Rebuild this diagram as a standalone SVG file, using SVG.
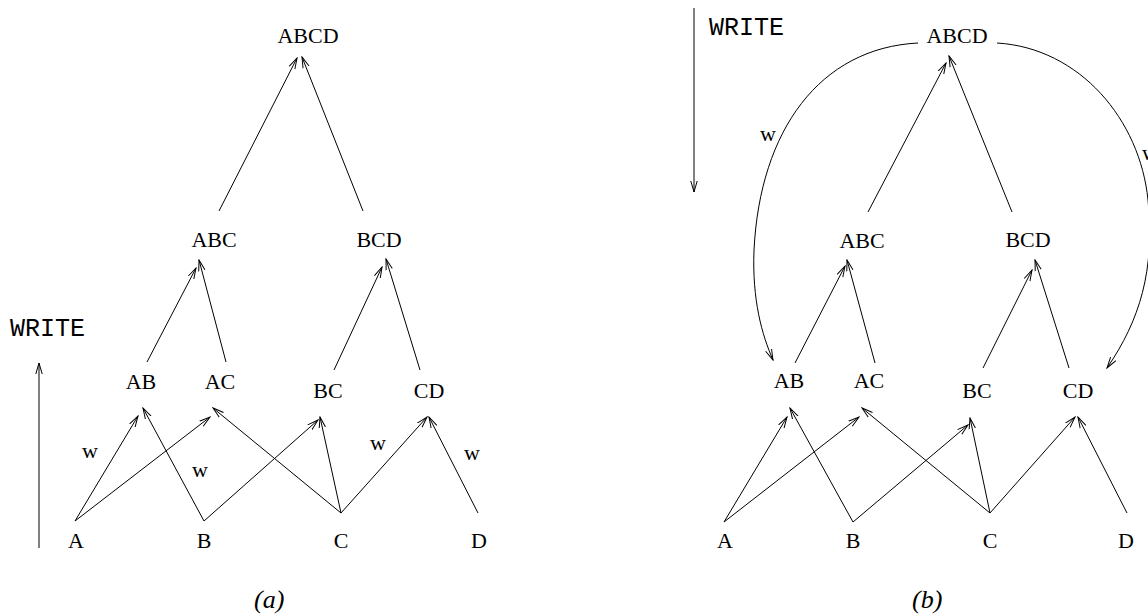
<svg xmlns="http://www.w3.org/2000/svg" width="1148" height="615" viewBox="0 0 1148 615">
<style>
.n{font-family:"Liberation Serif",serif;font-size:22px;fill:#000;text-anchor:middle}
.w{font-family:"Liberation Serif",serif;font-size:22px;fill:#000;text-anchor:middle}
.m{font-family:"Liberation Mono",monospace;font-size:25px;fill:#000}
.cap{font-family:"Liberation Serif",serif;font-size:26px;font-style:italic;fill:#000}
.c line,.c path{stroke:#000;stroke-width:1;fill:none;marker-end:url(#ah)}
</style>
<defs>
<marker id="ah" markerUnits="userSpaceOnUse" viewBox="0 0 12 8" markerWidth="12" markerHeight="8" refX="11" refY="4" orient="auto">
<path d="M0,0.8 L11,4 L0,7.2" fill="none" stroke="#000" stroke-width="1"/>
</marker>
</defs>
<rect width="1148" height="615" fill="#fff"/>
<g id="connectors" class="c">
<line x1="39" y1="548" x2="39" y2="363"/>
<line x1="219" y1="211" x2="297" y2="58"/>
<line x1="363" y1="211" x2="302" y2="57"/>
<line x1="147" y1="362" x2="196" y2="268"/>
<line x1="226" y1="362" x2="199" y2="260"/>
<line x1="334" y1="370" x2="382" y2="267"/>
<line x1="420" y1="370" x2="386" y2="259"/>
<line x1="75" y1="521" x2="138" y2="416"/>
<line x1="75" y1="521" x2="210" y2="417"/>
<line x1="204" y1="521" x2="143" y2="408"/>
<line x1="204" y1="521" x2="318" y2="420"/>
<line x1="341" y1="513" x2="213" y2="408"/>
<line x1="341" y1="513" x2="320" y2="417"/>
<line x1="341" y1="513" x2="427" y2="417"/>
<line x1="478" y1="513" x2="429" y2="417"/>
<line x1="694" y1="8" x2="694" y2="192"/>
<line x1="868" y1="212" x2="946" y2="63"/>
<line x1="1012" y1="212" x2="949" y2="56"/>
<line x1="795" y1="363" x2="845" y2="266"/>
<line x1="875" y1="363" x2="847" y2="260"/>
<line x1="983" y1="368" x2="1032" y2="270"/>
<line x1="1069" y1="368" x2="1035" y2="260"/>
<line x1="724" y1="522" x2="787" y2="417"/>
<line x1="724" y1="522" x2="859" y2="417"/>
<line x1="853" y1="522" x2="790" y2="408"/>
<line x1="853" y1="522" x2="968" y2="425"/>
<line x1="990" y1="513" x2="862" y2="408"/>
<line x1="990" y1="513" x2="970" y2="418"/>
<line x1="990" y1="513" x2="1075" y2="417"/>
<line x1="1127" y1="513" x2="1078" y2="417"/>
<path d="M918,43 C820,48 760,130 754,250 C752,300 762,335 773,360"/>
<path d="M997,43 C1080,48 1140,120 1148,200 C1155,270 1140,320 1107,368"/>
</g>
<g id="a-ABCD"><text class="n" x="308" y="43">ABCD</text></g>
<g id="a-ABC"><text class="n" x="214" y="247">ABC</text></g>
<g id="a-BCD"><text class="n" x="379" y="247">BCD</text></g>
<g id="a-AB"><text class="n" x="141" y="389">AB</text></g>
<g id="a-AC"><text class="n" x="220" y="389">AC</text></g>
<g id="a-BC"><text class="n" x="328" y="398">BC</text></g>
<g id="a-CD"><text class="n" x="429" y="398">CD</text></g>
<g id="a-A"><text class="n" x="76" y="548">A</text></g>
<g id="a-B"><text class="n" x="204" y="548">B</text></g>
<g id="a-C"><text class="n" x="341" y="548">C</text></g>
<g id="a-D"><text class="n" x="479" y="548">D</text></g>
<g id="a-labels">
<text class="m" x="10" y="336">WRITE</text>
<text class="w" x="90" y="458">w</text>
<text class="w" x="200" y="477">w</text>
<text class="w" x="378" y="450">w</text>
<text class="w" x="472" y="460">w</text>
<text class="cap" x="254" y="608">(a)</text>
</g>
<g id="b-ABCD"><text class="n" x="957" y="43">ABCD</text></g>
<g id="b-ABC"><text class="n" x="862" y="248">ABC</text></g>
<g id="b-BCD"><text class="n" x="1028" y="247">BCD</text></g>
<g id="b-AB"><text class="n" x="789" y="388">AB</text></g>
<g id="b-AC"><text class="n" x="869" y="388">AC</text></g>
<g id="b-BC"><text class="n" x="977" y="398">BC</text></g>
<g id="b-CD"><text class="n" x="1078" y="398">CD</text></g>
<g id="b-A"><text class="n" x="725" y="548">A</text></g>
<g id="b-B"><text class="n" x="853" y="548">B</text></g>
<g id="b-C"><text class="n" x="990" y="548">C</text></g>
<g id="b-D"><text class="n" x="1126" y="548">D</text></g>
<g id="b-labels">
<text class="m" x="709" y="35">WRITE</text>
<text class="w" x="768" y="141">w</text>
<text class="w" x="1142" y="160" style="text-anchor:start">w</text>
<text class="cap" x="912" y="608">(b)</text>
</g>
</svg>
